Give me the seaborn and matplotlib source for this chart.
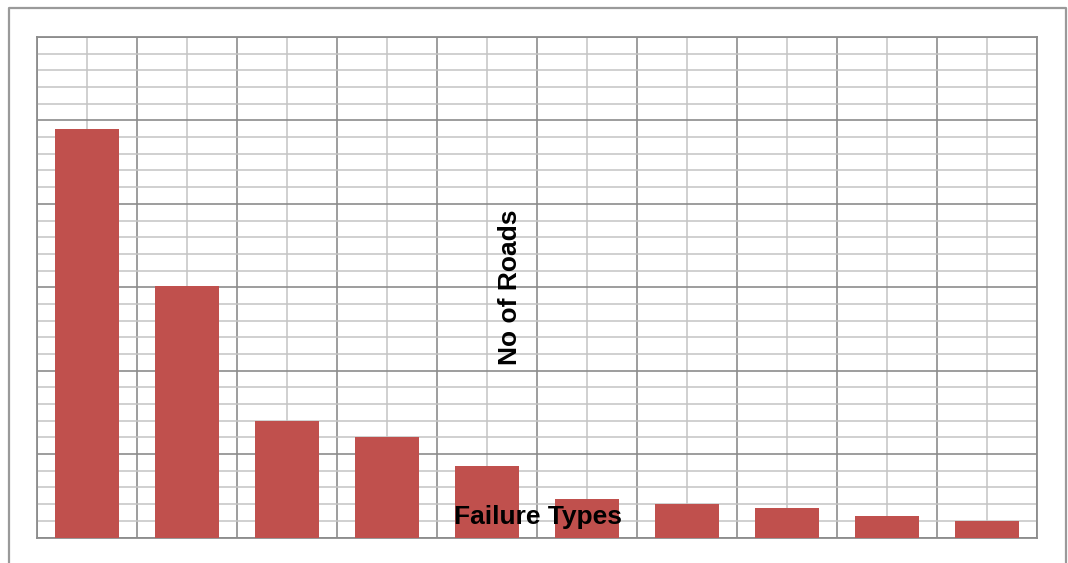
import matplotlib
matplotlib.use("Agg")
import matplotlib.pyplot as plt
from matplotlib.lines import Line2D
from matplotlib.ticker import MultipleLocator
import pandas as pd
import seaborn as sns

# Number of roads showing each failure type
failure_types = ["Type 1", "Type 2", "Type 3", "Type 4", "Type 5",
                 "Type 6", "Type 7", "Type 8", "Type 9", "Type 10"]
road_counts = [24.5, 15.1, 7.0, 6.05, 4.3, 2.3, 2.0, 1.77, 1.29, 1.0]

df = pd.DataFrame({"Failure Types": failure_types, "No of Roads": road_counts})

sns.set_theme(style="white")
plt.rcParams["font.family"] = ["Liberation Sans", "DejaVu Sans"]

W, H = 1068, 563
fig = plt.figure(figsize=(W / 100, H / 100), dpi=100)
ax = fig.add_axes([37 / W, 1 - 537.5 / H, 1000 / W, 500.5 / H])

sns.barplot(data=df, x="Failure Types", y="No of Roads", color="#C0504D",
            saturation=1, width=0.64, linewidth=0, edgecolor="none",
            ax=ax, zorder=3)

ax.set_xlim(-0.5, len(failure_types) - 0.5)
ax.set_ylim(0, 30)

# Grid: major lines at category edges / every 5 units, minor lines between
ax.xaxis.set_major_locator(MultipleLocator(1, offset=0.5))
ax.xaxis.set_minor_locator(MultipleLocator(1))
ax.yaxis.set_major_locator(MultipleLocator(5))
ax.yaxis.set_minor_locator(MultipleLocator(1))
ax.grid(which="major", color="#8c8c8c", linewidth=1.2, zorder=0)
ax.grid(which="minor", color="#c4c4c4", linewidth=1.1, zorder=0)
ax.set_axisbelow(True)
ax.tick_params(which="both", length=0, labelbottom=False, labelleft=False)
for s in ax.spines.values():
    s.set_color("#8c8c8c")
    s.set_linewidth(1.3)

# Axis titles sit inside the plotting area, drawn above the bars
ax.set_xlabel("")
ax.set_ylabel("")
ax.text(0.501, 0.041, "Failure Types", transform=ax.transAxes,
        fontsize=19, fontweight="bold", color="black",
        ha="center", va="center", zorder=10)
ax.text(0.473, 0.5, "No of Roads", transform=ax.transAxes, rotation=90,
        fontsize=19, fontweight="bold", color="black",
        ha="center", va="center", zorder=10)

# Outer chart frame (open at the bottom)
fx = [8.5 / W, 8.5 / W, 1066 / W, 1066 / W]
fy = [0, 1 - 7.5 / H, 1 - 7.5 / H, 0]
fig.add_artist(Line2D(fx, fy, color="#9a9a9a", linewidth=1.6,
                      transform=fig.transFigure))

fig.savefig("out.png", dpi=100, facecolor="white")
